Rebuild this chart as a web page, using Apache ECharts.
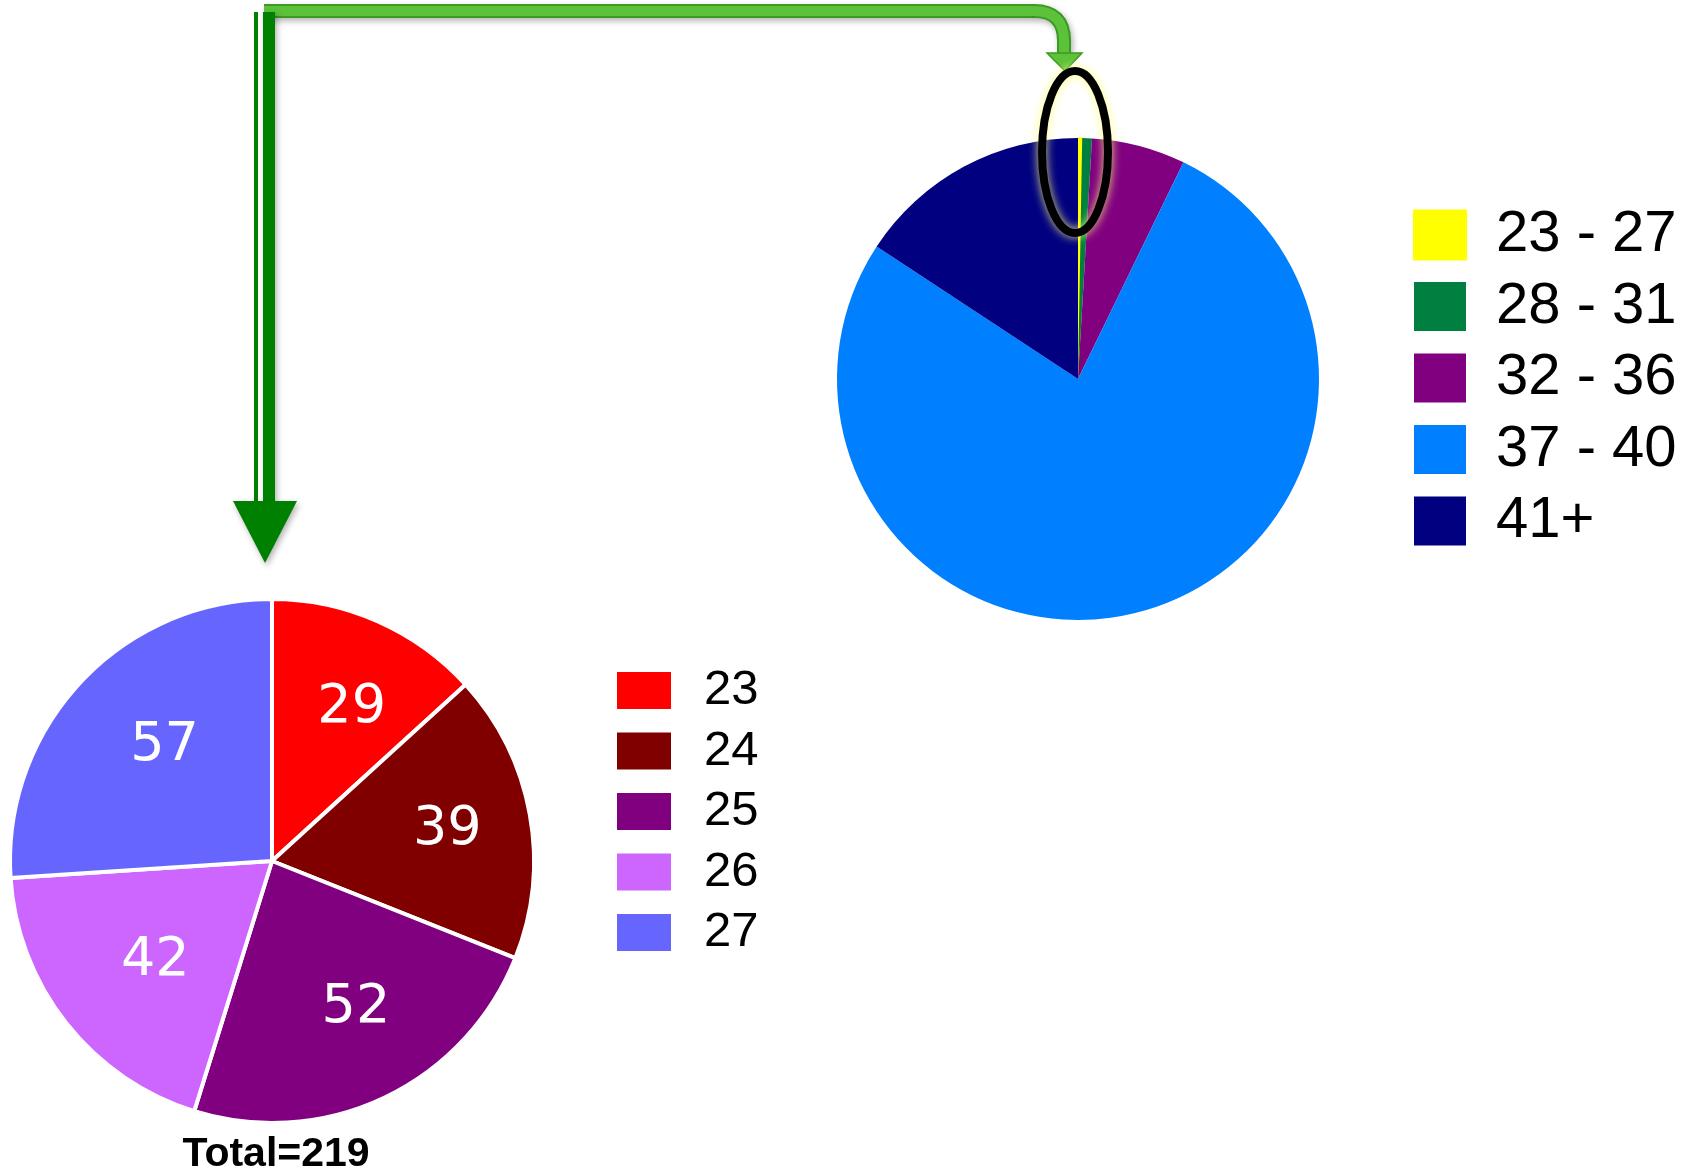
<!DOCTYPE html>
<html>
<head>
<meta charset="utf-8">
<script src="https://cdn.jsdelivr.net/npm/echarts@6/dist/echarts.min.js"></script>
<style>
  html, body { margin: 0; padding: 0; background: #fff; }
  #chart { width: 1694px; height: 1170px; }
</style>
</head>
<body>
<div id="chart"></div>
<script>
// 上方饼图：年龄段
var rangeNames = ["23 - 27", "28 - 31", "32 - 36", "37 - 40", "41+"];
var rangeValues = [219, 510, 4950, 60700, 12400];
var rangeColors = ["#FFFF00", "#008040", "#800080", "#0080FF", "#000080"];

// 下方饼图：23-27 细分
var ageNames = ["23", "24", "25", "26", "27"];
var ageValues = [29, 39, 52, 42, 57];
var ageColors = ["#FF0000", "#800000", "#800080", "#CC66FF", "#6666FF"];

var total = ageValues.reduce(function (a, b) { return a + b; }, 0);

function toData(names, values, colors) {
  return names.map(function (n, i) {
    return { name: n, value: values[i], itemStyle: { color: colors[i] } };
  });
}

var topData = toData(rangeNames, rangeValues, rangeColors);
topData[0].itemStyle.borderColor = "#FFFF00"; // 很细的一片，加描边才看得见
topData[0].itemStyle.borderWidth = 1.5;

// 浅绿弯箭头的几段（外层深色描边 + 内层浅色）
function bentArrow(color, width, z, shadow) {
  var st = { fill: null, stroke: color, lineWidth: width, lineCap: "butt" };
  if (shadow) {
    st.shadowColor = "rgba(0,0,0,0.3)";
    st.shadowBlur = 6;
    st.shadowOffsetX = 2;
    st.shadowOffsetY = 3;
  }
  return [
    { type: "line", shape: { x1: 264, y1: 11, x2: 1035, y2: 11 }, style: st, z: z },
    { type: "bezierCurve", shape: { x1: 1034, y1: 11, cpx1: 1064, cpy1: 11, x2: 1064, y2: 41 }, style: st, z: z },
    { type: "line", shape: { x1: 1064, y1: 40, x2: 1064, y2: 55 }, style: st, z: z }
  ];
}

var chart = echarts.init(document.getElementById("chart"));
chart.setOption({
  animation: false,
  legend: [
    {
      orient: "vertical",
      left: 1413,
      top: 206,
      padding: 0,
      icon: "rect",
      itemWidth: 52,
      itemHeight: 49,
      itemGap: 13.5,
      selectedMode: false,
      data: rangeNames,
      textStyle: {
        fontFamily: "Liberation Sans",
        fontSize: 58,
        lineHeight: 49,
        color: "#000",
        padding: [0, 0, 0, 25]
      }
    },
    {
      orient: "vertical",
      left: 615,
      top: 666,
      padding: 0,
      icon: "rect",
      itemWidth: 56,
      itemHeight: 39,
      itemGap: 11.5,
      selectedMode: false,
      data: ageNames,
      textStyle: {
        fontFamily: "Liberation Sans",
        fontSize: 49,
        lineHeight: 39,
        color: "#000",
        padding: [0, 0, 0, 27]
      }
    }
  ],
  series: [
    {
      type: "pie",
      center: [1078, 379],
      radius: 241,
      startAngle: 90,
      clockwise: true,
      silent: true,
      label: { show: false },
      labelLine: { show: false },
      data: topData
    },
    {
      type: "pie",
      center: [272, 861],
      radius: 262,
      startAngle: 90,
      clockwise: true,
      silent: true,
      label: { show: false },
      labelLine: { show: false },
      itemStyle: { borderColor: "#fff", borderWidth: 4 },
      data: toData(ageNames, ageValues, ageColors)
    },
    {
      // 只用来放数字标签
      type: "pie",
      center: [272, 861],
      radius: [62, 262],
      startAngle: 90,
      clockwise: true,
      silent: true,
      legendHoverLink: false,
      itemStyle: { color: "transparent" },
      label: {
        show: true,
        position: "inside",
        formatter: "{c}",
        color: "#fff",
        fontFamily: "DejaVu Sans",
        fontSize: 54,
        offset: [13, -2]
      },
      labelLine: { show: false },
      data: ageNames.map(function (n, i) { return { name: n, value: ageValues[i] }; })
    }
  ],
  graphic: [].concat(
    bentArrow("#3A9A22", 14, 9, true),
    bentArrow("#5CC23A", 10, 11, false),
    [
      { type: "polygon", shape: { points: [[1047, 53], [1082, 53], [1065, 71]] }, style: { fill: "#5CC23A", stroke: "#3A9A22", lineWidth: 1.5 }, z: 11 },
      // 深绿色向下箭头
      { type: "rect", shape: { x: 254, y: 12, width: 4, height: 492 }, style: { fill: "#008000" }, z: 12 },
      { type: "rect", shape: { x: 263, y: 12, width: 12, height: 492 }, style: { fill: "#008000", shadowColor: "rgba(0,0,0,0.3)", shadowBlur: 6, shadowOffsetX: 2, shadowOffsetY: 2 }, z: 12 },
      { type: "polygon", shape: { points: [[233, 501], [297, 501], [265, 563]] }, style: { fill: "#008000", shadowColor: "rgba(0,0,0,0.3)", shadowBlur: 6, shadowOffsetX: 2, shadowOffsetY: 3 }, z: 12 },
      // 黑色椭圆
      {
        type: "ellipse",
        shape: { cx: 1075, cy: 152, rx: 33, ry: 81 },
        style: { fill: null, stroke: "#000", lineWidth: 8, shadowColor: "rgba(255,255,120,0.9)", shadowBlur: 10 },
        z: 12
      },
      {
        type: "text",
        x: 276,
        y: 1155,
        style: {
          text: "Total=" + total,
          fontFamily: "Liberation Sans",
          fontWeight: "bold",
          fontSize: 41,
          fill: "#000",
          textAlign: "center",
          textVerticalAlign: "middle"
        },
        z: 10
      }
    ]
  )
});
</script>
</body>
</html>
